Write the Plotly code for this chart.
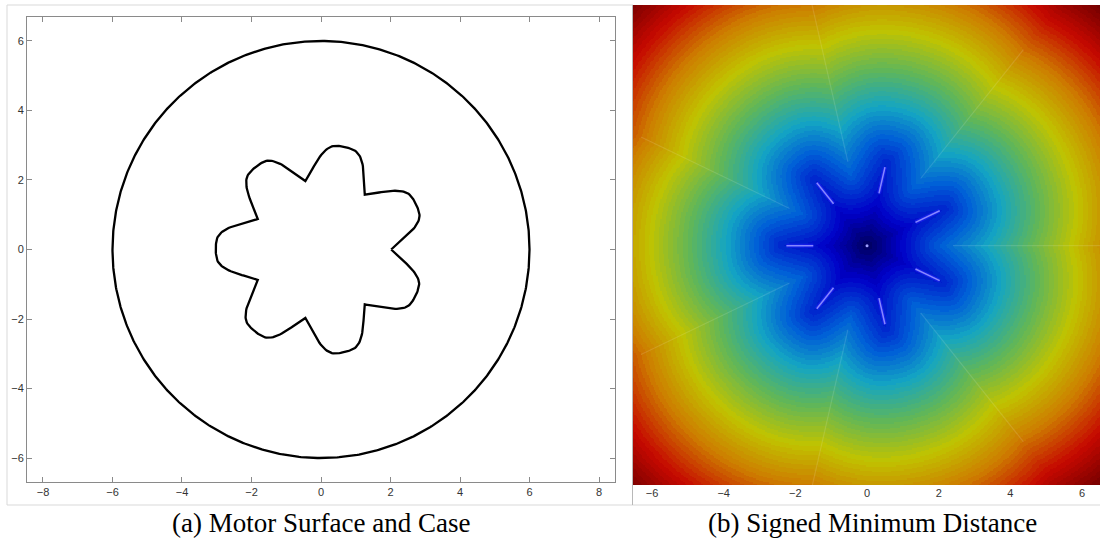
import numpy as np
import plotly.graph_objects as go

W, H = 1100, 546

# ---- grain geometry -------------------------------------------------------
N_LOBES = 7
# one lobe in polar control points, measured from its clockwise notch
LOBE_ANGLES = [0.0, 15.0, 26.0, 36.0, 360.0 / 7]   # degrees
LOBE_RADII = [2.02, 3.0, 3.06, 2.98, 2.02]
CASE_RADIUS = 6.0

# ---- ticks / labels -------------------------------------------------------
LEFT_XTICKS = [-8, -6, -4, -2, 0, 2, 4, 6, 8]
LEFT_YTICKS = [-6, -4, -2, 0, 2, 4, 6]
RIGHT_XTICKS = [-6, -4, -2, 0, 2, 4, 6]
CAPTIONS = ["(a) Motor Surface and Case", "(b) Signed Minimum Distance"]

# interior ridge streaks along each lobe axis (radial span)
SPOKE_R = [1.5, 2.25]
# exterior ridge streaks along each notch direction (radial span)
RIDGE_R = [2.4, 7.0]

# muted jet colour stops (fraction, r, g, b)
JET_STOPS = [
    (0.00, 0, 0, 95),
    (0.11, 0, 0, 200),
    (0.24, 0, 95, 215),
    (0.34, 20, 165, 195),
    (0.46, 95, 182, 90),
    (0.59, 192, 195, 0),
    (0.72, 205, 125, 0),
    (0.86, 198, 8, 0),
    (1.00, 110, 0, 0),
]
N_LEVELS = 64


def px_x(p):
    return p / W


def px_y(p):
    return 1 - p / H


def chaikin(pts, n):
    """Corner cutting that keeps both end points fixed."""
    pts = np.asarray(pts, float)
    for _ in range(n):
        out = [pts[0]]
        for a, b in zip(pts[:-1], pts[1:]):
            out.append(0.75 * a + 0.25 * b)
            out.append(0.25 * a + 0.75 * b)
        out.append(pts[-1])
        pts = np.array(out)
    return pts


def star_outline():
    parts = []
    for k in range(N_LOBES):
        ang = np.radians(k * 360.0 / N_LOBES + np.array(LOBE_ANGLES))
        r = np.array(LOBE_RADII)
        lobe = np.column_stack([r * np.cos(ang), r * np.sin(ang)])
        parts.append(chaikin(lobe, 4)[:-1])
    s = np.vstack(parts)
    return np.vstack([s, s[:1]])


star = star_outline()
theta = np.linspace(0, 2 * np.pi, 721)
case_x = CASE_RADIUS * np.cos(theta)
case_y = CASE_RADIUS * np.sin(theta)

# ---- signed minimum distance to the grain surface -------------------------
gx = np.linspace(-6.55, 6.55, 361)
gy = np.linspace(-6.74, 6.74, 371)
GX, GY = np.meshgrid(gx, gy)
d2 = np.full(GX.shape, np.inf)
inside = np.zeros(GX.shape, bool)
for (ax, ay), (bx, by) in zip(star[:-1], star[1:]):
    ex, ey = bx - ax, by - ay
    t = np.clip(((GX - ax) * ex + (GY - ay) * ey) / (ex * ex + ey * ey), 0, 1)
    dx = GX - (ax + t * ex)
    dy = GY - (ay + t * ey)
    d2 = np.minimum(d2, dx * dx + dy * dy)
    crosses = (ay > GY) != (by > GY)
    if ey != 0:
        xint = ax + (GY - ay) * ex / ey
        inside ^= crosses & (GX < xint)
sdf = np.sqrt(d2)
sdf[inside] *= -1


def jet_color(f):
    for (f0, *c0), (f1, *c1) in zip(JET_STOPS[:-1], JET_STOPS[1:]):
        if f <= f1:
            u = (f - f0) / (f1 - f0)
            c = [round(a + (b - a) * u) for a, b in zip(c0, c1)]
            return "rgb({},{},{})".format(*c)
    return "rgb({},{},{})".format(*JET_STOPS[-1][1:])


colorscale = []
for i in range(N_LEVELS):
    c = jet_color((i + 0.5) / N_LEVELS)
    colorscale.append([i / N_LEVELS, c])
    colorscale.append([(i + 1) / N_LEVELS, c])

fig = go.Figure()

# left: motor surface and case
fig.add_trace(go.Scatter(x=case_x, y=case_y, mode="lines",
                         line=dict(color="black", width=2.3),
                         xaxis="x", yaxis="y", hoverinfo="skip"))
fig.add_trace(go.Scatter(x=star[:, 0], y=star[:, 1], mode="lines",
                         line=dict(color="black", width=2.3),
                         xaxis="x", yaxis="y", hoverinfo="skip"))

# right: signed distance field
fig.add_trace(go.Heatmap(x=gx, y=gy, z=sdf, colorscale=colorscale,
                         zmin=float(sdf.min()), zmax=float(sdf.max()),
                         showscale=False, xaxis="x2", yaxis="y2",
                         hoverinfo="skip"))


def radial_segments(angles, r0, r1):
    xs, ys = [], []
    for a in angles:
        xs += [r0 * np.cos(a), r1 * np.cos(a), None]
        ys += [r0 * np.sin(a), r1 * np.sin(a), None]
    return xs, ys


notch_dir = np.radians(np.arange(N_LOBES) * 360.0 / N_LOBES)
lobe_dir = notch_dir + np.radians(180.0 / N_LOBES)

rx, ry = radial_segments(notch_dir, *RIDGE_R)
fig.add_trace(go.Scatter(x=rx, y=ry, mode="lines",
                         line=dict(color="rgba(255,255,255,0.12)", width=1.2),
                         xaxis="x2", yaxis="y2", hoverinfo="skip"))
sx, sy = radial_segments(lobe_dir, *SPOKE_R)
fig.add_trace(go.Scatter(x=sx, y=sy, mode="lines",
                         line=dict(color="rgba(40,40,255,0.5)", width=4),
                         xaxis="x2", yaxis="y2", hoverinfo="skip"))
fig.add_trace(go.Scatter(x=sx, y=sy, mode="lines",
                         line=dict(color="rgb(135,135,255)", width=1.5),
                         xaxis="x2", yaxis="y2", hoverinfo="skip"))
fig.add_trace(go.Scatter(x=[0], y=[0], mode="markers",
                         marker=dict(color="#a0a0ff", size=3),
                         xaxis="x2", yaxis="y2", hoverinfo="skip"))

tickfont = dict(family="Liberation Sans, Arial, sans-serif", size=11, color="#333333")
axis_common = dict(showgrid=False, zeroline=False, showline=True,
                   linecolor="#8a8a8a", linewidth=1, mirror="ticks",
                   ticks="inside", ticklen=5, tickcolor="#8a8a8a",
                   tickfont=tickfont)

fig.update_layout(
    width=W, height=H,
    margin=dict(l=0, r=0, t=0, b=0),
    paper_bgcolor="white", plot_bgcolor="white",
    showlegend=False,
    xaxis=dict(domain=[px_x(27), px_x(615)], range=[-8.46, 8.46],
               tickvals=LEFT_XTICKS, anchor="y", **axis_common),
    yaxis=dict(domain=[px_y(482), px_y(17)], range=[-6.69, 6.69],
               tickvals=LEFT_YTICKS, anchor="x", **axis_common),
    xaxis2=dict(domain=[px_x(633), 1.0], range=[-6.53, 6.5],
                tickvals=RIGHT_XTICKS, anchor="y2", showgrid=False,
                zeroline=False, showline=False, ticks="", tickfont=tickfont),
    yaxis2=dict(domain=[px_y(485), px_y(5)], range=[-6.68, 6.72],
                anchor="x2", visible=False),
)

# image frames
frame = "#d9d9d9"
shapes = [
    dict(x0=px_x(7), x1=px_x(633), y0=px_y(5), y1=px_y(5)),
    dict(x0=px_x(7), x1=px_x(7), y0=px_y(5), y1=px_y(505)),
    dict(x0=px_x(7), x1=1.0, y0=px_y(505), y1=px_y(505)),
]
for s in shapes:
    fig.add_shape(type="line", xref="paper", yref="paper",
                  line=dict(color=frame, width=1), **s)
fig.add_shape(type="line", xref="paper", yref="paper",
              x0=px_x(632.5), x1=px_x(632.5), y0=px_y(5), y1=px_y(505),
              line=dict(color="#b8b8b8", width=1))

capfont = dict(family="Liberation Serif, Times New Roman, serif", size=27, color="black")
for text, cx in zip(CAPTIONS, [321, 872]):
    fig.add_annotation(text=text, x=px_x(cx), y=px_y(523), xref="paper", yref="paper",
                       showarrow=False, xanchor="center", yanchor="middle", font=capfont)

fig.write_html("out.html")
